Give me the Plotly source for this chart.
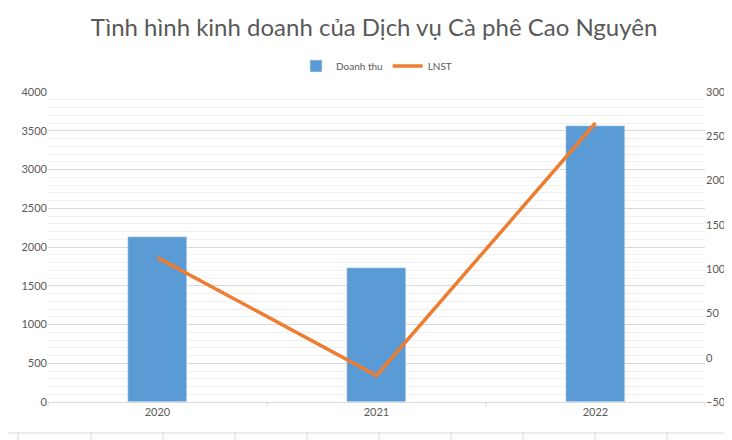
import plotly.graph_objects as go

years = ["2020", "2021", "2022"]
doanh_thu = [2130, 1730, 3565]
lnst = [113, -20, 265]

fig = go.Figure()
fig.add_bar(x=years, y=doanh_thu, name="Doanh thu", marker_color="#5B9BD5", width=0.27, yaxis="y")
fig.add_scatter(x=years, y=lnst, name="LNST", mode="lines", line=dict(color="#ED7D31", width=3.5), yaxis="y2")

L, R, T, B = 40, 697, 84, 394
W, H = R - L, B - T
shapes = []
def px(X): return (X - L) / W
def py(Y): return (B - Y) / H
shapes.append(dict(type="line", xref="paper", yref="paper", x0=px(0), x1=px(732), y0=py(425), y1=py(425), line=dict(color="#D9D9D9", width=1)))
for X in [10, 83, 155, 227, 299, 371, 443, 515, 587, 659]:
    shapes.append(dict(type="line", xref="paper", yref="paper", x0=px(X), x1=px(X), y0=py(425), y1=py(440), line=dict(color="#D9D9D9", width=1)))
# category separator ticks
for X in [40, 259, 478, 697]:
    shapes.append(dict(type="line", xref="paper", yref="paper", x0=px(X), x1=px(X), y0=0, y1=py(399), line=dict(color="#D9D9D9", width=1)))

fig.update_layout(
    width=732, height=440,
    margin=dict(l=L, r=732 - R, t=T, b=440 - B),
    paper_bgcolor="white", plot_bgcolor="white",
    font=dict(family="Lato, Open Sans, sans-serif", color="#595959", size=11),
    title=dict(text="Tình hình kinh doanh của Dịch vụ Cà phê Cao Nguyên", x=0.5, xanchor="center", y=0.955, yanchor="middle",
               font=dict(size=24, color="#595959", family="Lato, Open Sans, sans-serif")),
    legend=dict(orientation="h", x=0.5, xanchor="center", y=py(58), yanchor="middle", font=dict(size=10)),
    showlegend=True,
    bargap=0,
    xaxis=dict(showgrid=False, showline=True, linecolor="#D9D9D9", ticks="", tickfont=dict(size=11)),
    yaxis=dict(range=[0, 4000], dtick=500, gridcolor="#D9D9D9", showline=False, zeroline=False,
               minor=dict(dtick=100, showgrid=True, gridcolor="#F0F0F0"), tickfont=dict(size=11)),
    yaxis2=dict(range=[-50, 300], dtick=50, overlaying="y", side="right", showgrid=False, zeroline=False,
                tickfont=dict(size=11)),
    shapes=shapes,
)
fig.write_html("out.html")
